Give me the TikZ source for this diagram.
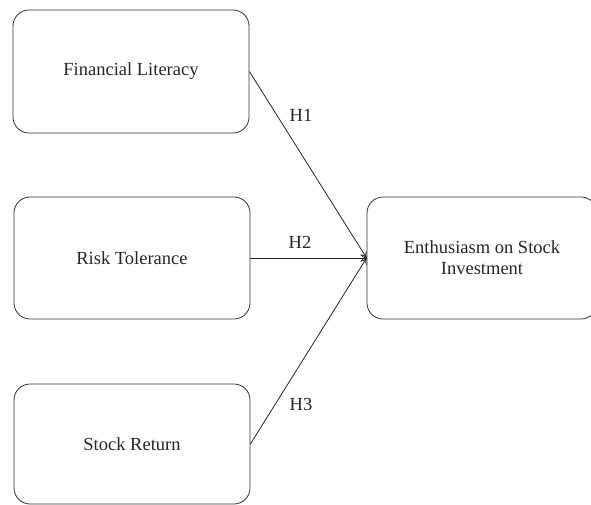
\documentclass[tikz,border=0pt]{standalone}
\usepackage{fontspec}
\setmainfont{Liberation Serif}
\usetikzlibrary{arrows.meta}
\begin{document}
\begin{tikzpicture}[x=1pt,y=-1pt,
  box/.style={draw=black!80, line width=0.8pt, rounded corners=16pt, inner sep=0pt, align=center, text=black!85, font=\fontsize{18.5}{21}\selectfont},
  conn/.style={draw=black!85, line width=0.8pt, -{To[length=6pt,width=7pt]}},
  hlab/.style={font=\fontsize{18.5}{21}\selectfont, text=black!85, inner sep=0pt}]
\useasboundingbox (0,0) rectangle (591,504);
\node[box, minimum width=236pt, minimum height=123pt] (fl) at (131,71.5) {Financial Literacy};
\node[box, minimum width=236pt, minimum height=122pt] (rt) at (132,258) {Risk Tolerance};
\node[box, minimum width=236pt, minimum height=120pt] (sr) at (132,444) {Stock Return};
\node[box, minimum width=230pt, minimum height=122pt] (en) at (482,258) {Enthusiasm on Stock\\Investment};
\draw[conn] (fl.east) -- (en.west);
\draw[conn] (rt.east) -- (en.west);
\draw[conn] (sr.east) -- (en.west);
\node[hlab] (h1) at (301,115) {H1};
\node[hlab] (h2) at (300,242) {H2};
\node[hlab] (h3) at (301,404) {H3};
\end{tikzpicture}
\end{document}
